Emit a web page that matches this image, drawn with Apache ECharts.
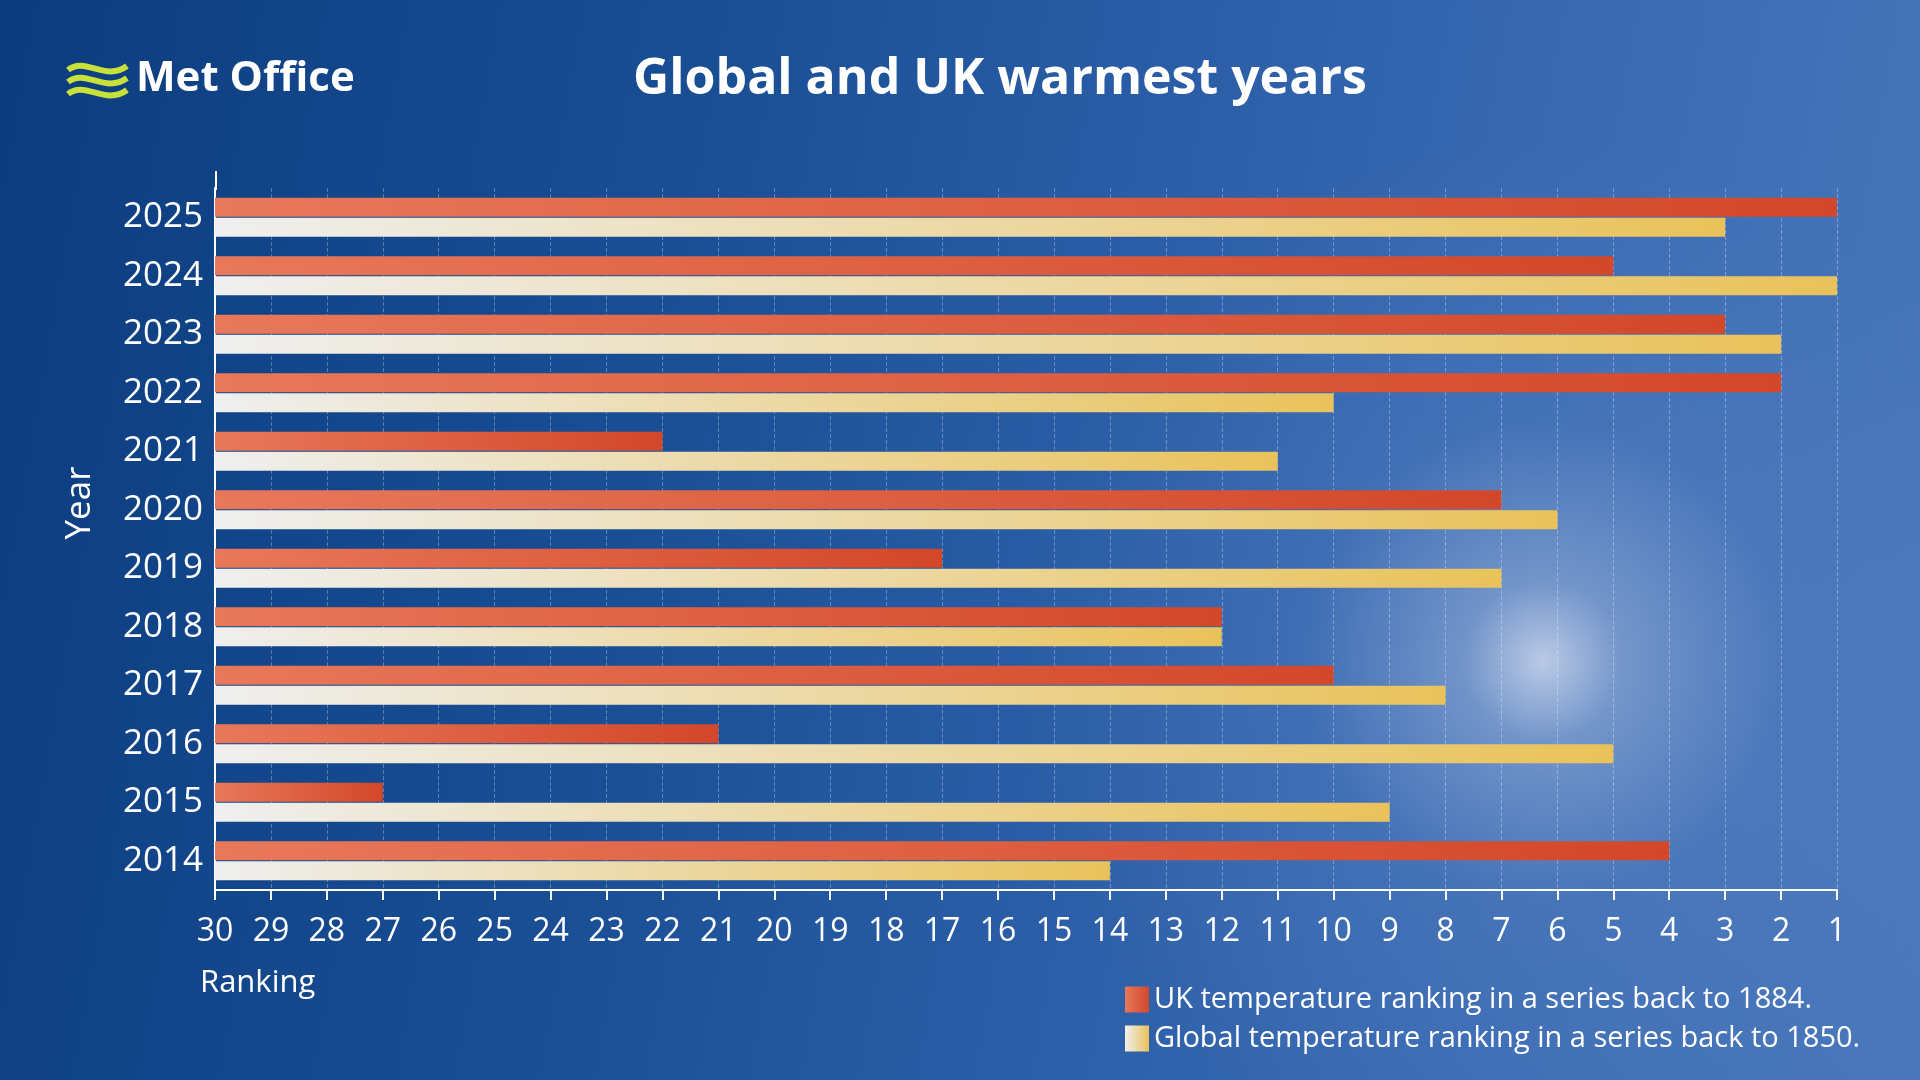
<!DOCTYPE html>
<html>
<head>
<meta charset="utf-8">
<script src="https://cdn.jsdelivr.net/npm/echarts@6/dist/echarts.min.js"></script>
<style>
  html, body { margin: 0; padding: 0; width: 1920px; height: 1080px; overflow: hidden; }
  body {
    background:
      radial-gradient(circle at 1543px 661px, rgba(200,212,235,0.9) 0px, rgba(160,182,220,0.55) 80px, rgba(110,145,205,0.2) 240px, rgba(80,120,190,0) 520px),
      linear-gradient(100deg, #0b3c7e 0%, #1a4f96 35%, #3567b0 70%, #4a78bb 100%);
  }
  #chart { width: 1920px; height: 1080px; }
</style>
</head>
<body>
<div id="chart"></div>
<script>
// 年份（自下而上）
var years = ['2014', '2015', '2016', '2017', '2018', '2019', '2020', '2021', '2022', '2023', '2024', '2025'];
// 英国气温排名
var ukRank = [4, 27, 21, 10, 12, 17, 7, 22, 2, 3, 5, 1];
// 全球气温排名
var globalRank = [14, 9, 5, 8, 12, 7, 6, 11, 10, 2, 1, 3];
var maxRank = 30;

// 排名转换成从左侧(30)起算的长度
function toLen(arr) {
  return arr.map(function (r) { return maxRank - r; });
}

var myChart = echarts.init(document.getElementById('chart'));
var font = 'Open Sans';

// logo 波浪线
var waves = [0, 1, 2].map(function (i) {
  var y = 66 + i * 12;
  return {
    type: 'bezierCurve',
    shape: { x1: 68, y1: y + 4, cpx1: 85, cpy1: y - 10, cpx2: 105, cpy2: y + 16, x2: 127, y2: y },
    style: { stroke: '#c8e03a', lineWidth: 6, fill: null }
  };
});

var option = {
  textStyle: { fontFamily: font },
  title: {
    text: 'Global and UK warmest years',
    left: 995, top: 50, textAlign: 'center',
    textStyle: { color: '#fff', fontSize: 50, fontWeight: 'bold', fontFamily: font }
  },
  graphic: waves.concat([
    {
      type: 'text', left: 136, top: 58,
      style: { text: 'Met Office', fill: '#fff', fontSize: 42, fontWeight: 'bold', fontFamily: font }
    },
    {
      type: 'text', left: 200, top: 968,
      style: { text: 'Ranking', fill: '#fff', fontSize: 31, fontFamily: font }
    },
    {
      type: 'text', x: 80, y: 503, rotation: Math.PI / 2,
      style: { text: 'Year', fill: '#fff', fontSize: 35, fontFamily: font, align: 'center', verticalAlign: 'middle' }
    },
    {
      type: 'line', shape: { x1: 216, y1: 171, x2: 216, y2: 190 },
      style: { stroke: '#fff', lineWidth: 2 }
    }
  ]),
  legend: {
    orient: 'vertical', left: 1120, top: 980, itemGap: 10,
    itemWidth: 24, itemHeight: 26, icon: 'rect',
    textStyle: { color: '#fff', fontSize: 29, fontFamily: font },
    data: ['UK temperature ranking in a series back to 1884.', 'Global temperature ranking in a series back to 1850.']
  },
  grid: { left: 215, right: 83, top: 188, bottom: 190, containLabel: false },
  xAxis: {
    type: 'value', min: 0, max: maxRank - 1, interval: 1,
    axisLine: { show: true, lineStyle: { color: '#fff', width: 2 } },
    axisTick: { show: true, length: 10, lineStyle: { color: '#fff', width: 2 } },
    axisLabel: {
      color: '#fff', fontSize: 32, margin: 26,
      formatter: function (v) { return maxRank - v; }
    },
    splitLine: { show: true, lineStyle: { color: 'rgba(255,255,255,0.3)', type: 'dashed', width: 1 } }
  },
  yAxis: {
    type: 'category', data: years,
    axisLine: { show: true, lineStyle: { color: '#fff', width: 2 } },
    axisTick: { show: false },
    axisLabel: { color: '#fff', fontSize: 35, margin: 12 }
  },
  series: [
    {
      name: 'UK temperature ranking in a series back to 1884.',
      type: 'bar', barWidth: 19, barGap: '6%',
      itemStyle: {
        color: new echarts.graphic.LinearGradient(0, 0, 1, 0, [
          { offset: 0, color: '#e8785a' }, { offset: 1, color: '#d3472a' }
        ])
      },
      data: toLen(ukRank)
    },
    {
      name: 'Global temperature ranking in a series back to 1850.',
      type: 'bar', barWidth: 19,
      itemStyle: {
        color: new echarts.graphic.LinearGradient(0, 0, 1, 0, [
          { offset: 0, color: '#efefef' }, { offset: 1, color: '#e9c25a' }
        ])
      },
      data: toLen(globalRank)
    }
  ]
};
myChart.setOption(option);
</script>
</body>
</html>
